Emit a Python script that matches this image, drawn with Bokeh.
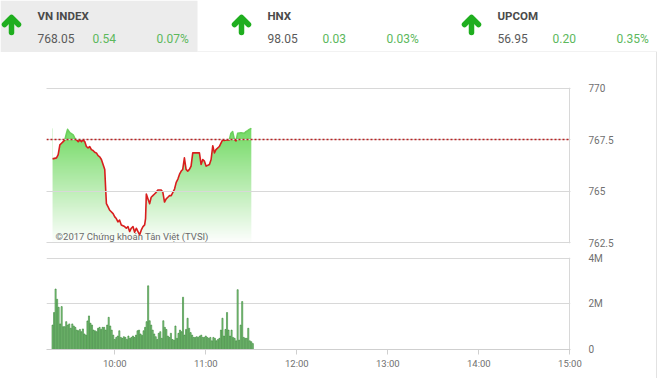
import numpy as np
from bokeh.plotting import figure
from bokeh.layouts import column
from bokeh.models import Range1d, FixedTicker, Span, Label
from bokeh.core.properties import value
from bokeh.embed import file_html
from bokeh.resources import INLINE

# ---------------- data ----------------
index_names = ["VN INDEX", "HNX", "UPCOM"]
index_values = ["768.05", "98.05", "56.95"]
index_changes = ["0.54", "0.03", "0.20"]
index_pcts = ["0.07%", "0.03%", "0.35%"]

ref_price = 767.51

# minutes after 9:00
price_time = [19.0, 21.6, 22.7, 23.8, 24.9, 26.0, 27.1, 28.2, 28.9, 30.4, 32.6, 33.7,
              34.8, 35.9, 37.0, 38.1, 39.1, 40.2, 41.3, 42.4, 43.5, 44.6, 45.7, 46.8,
              47.9, 49.0, 50.1, 51.2, 52.3, 53.4, 54.0, 54.5, 55.6, 56.7, 58.9, 60.0,
              61.0, 62.1, 63.2, 64.3, 66.5, 67.6, 68.7, 69.8, 70.9, 72.0, 73.1, 74.2,
              75.3, 76.4, 77.5, 78.6, 79.7, 80.3, 80.8, 81.9, 83.0, 84.0, 85.1, 86.2,
              87.3, 88.4, 90.6, 91.7, 92.8, 93.9, 95.0, 96.1, 97.2, 98.3, 99.4, 100.5,
              101.6, 102.7, 103.8, 104.8, 105.9, 107.0, 108.1, 109.2, 110.3, 111.4, 113.6, 115.8,
              116.9, 118.0, 119.1, 120.2, 122.4, 123.5, 124.6, 125.7, 126.7, 128.9, 130.0, 131.1,
              132.2, 133.3, 135.5, 136.6, 137.7, 138.8, 139.9, 141.0, 143.2, 145.4, 146.5, 147.6,
              148.7, 150.0]
price = [766.57, 766.62, 766.78, 767.25, 767.33, 767.41, 767.49, 767.81, 768.00, 767.84, 767.73, 767.57,
         767.49, 767.41, 767.49, 767.41, 767.49, 767.41, 767.17, 767.10, 767.17, 767.02, 766.98, 766.89,
         766.86, 766.73, 766.67, 766.54, 766.30, 766.06, 765.11, 764.40, 764.24, 764.08, 763.92, 763.76,
         763.68, 763.52, 763.60, 763.37, 763.29, 763.21, 763.29, 763.05, 763.21, 763.29, 763.02, 763.21,
         763.05, 762.89, 763.13, 763.29, 763.37, 763.68, 764.87, 764.63, 764.40, 764.71, 764.79, 764.87,
         764.95, 765.06, 765.06, 764.95, 764.48, 764.63, 764.71, 764.79, 764.79, 764.95, 765.11, 765.43,
         765.59, 765.83, 765.98, 766.06, 766.62, 766.06, 765.98, 766.06, 766.22, 766.86, 766.86, 766.86,
         766.30, 766.54, 766.46, 766.22, 766.30, 766.54, 767.21, 766.86, 767.02, 767.17, 767.33, 767.49,
         767.46, 767.49, 767.49, 767.81, 767.89, 767.52, 767.44, 767.81, 767.84, 767.81, 767.89, 767.94,
         768.00, 768.05]

# volume per minute (millions of shares), first bar at 9:19
vol_start_minute = 19
vol_m = [1.07, 1.62, 2.65, 2.2, 1.85, 1.12, 1.88, 1.0, 1.0, 1.22,
         1.07, 1.12, 0.93, 1.12, 1.03, 0.97, 0.85, 0.82, 0.88, 0.78,
         0.9, 0.68, 0.63, 1.25, 1.47, 1.15, 1.07, 0.85, 0.82, 0.78,
         0.93, 0.97, 0.88, 0.97, 0.97, 0.85, 1.07, 1.41, 1.03, 0.85,
         0.63, 0.44, 0.53, 0.59, 0.82, 0.53, 0.49, 0.56, 0.53, 0.44,
         0.59, 0.49, 0.53, 0.59, 0.53, 0.63, 0.82, 0.85, 0.68, 0.62,
         0.82, 0.97, 1.22, 2.79, 1.26, 1.07, 0.85, 0.68, 0.56, 0.44,
         0.71, 0.78, 0.49, 1.26, 0.97, 0.88, 0.59, 0.53, 0.71, 0.44,
         0.41, 1.03, 0.49, 0.71, 0.85, 0.78, 2.29, 0.63, 0.88, 1.37,
         0.93, 0.74, 0.63, 0.53, 0.53, 0.56, 0.53, 0.59, 0.63, 0.53,
         0.53, 0.59, 0.53, 0.49, 0.53, 0.38, 0.53, 0.49, 0.38, 0.44,
         0.49, 0.85, 1.37, 0.59, 0.88, 1.62, 0.85, 0.59, 0.85, 0.53,
         0.49, 0.38, 2.62, 0.41, 1.07, 2.1, 0.53, 0.49, 0.49, 0.93,
         0.38, 0.34, 0.26]

hour_ticks = [60, 120, 180, 240, 300, 360]
hour_labels = ["10:00", "11:00", "12:00", "13:00", "14:00", "15:00"]
price_ticks = [762.5, 765, 767.5, 770]
price_labels = ["762.5", "765", "767.5", "770"]
vol_ticks = [0, 2, 4]
vol_labels = ["0", "2M", "4M"]
copyright_text = "©2017 Chứng khoán Tân Việt (TVSI)"

FONT = "Roboto"
W = 656
X_START, X_END = 15, 360.4

# ---------------- header ----------------
hdr = figure(width=W + 1, height=52, output_backend="svg", toolbar_location=None,
             x_range=Range1d(0, W + 1), y_range=Range1d(52, 0),
             x_axis_location=None, y_axis_location=None, min_border=0)
try:
    hdr.frame_align = False
except Exception:
    pass
hdr.grid.visible = False
hdr.outline_line_color = None
hdr.background_fill_color = "white"
hdr.border_fill_color = "white"
hdr.quad(left=[0], right=[197], top=[0], bottom=[52], fill_color="#ececec", line_color=None)
hdr.segment(x0=[197], y0=[51.5], x1=[W + 1], y1=[51.5], line_color="#e4e4e4", line_width=1)

base_x = [37, 267, 497]
arrow_xs, arrow_ys = [], []
for b in base_x:
    c = b - 26
    arrow_xs += [[c - 7, c, c + 7], [c, c]]
    arrow_ys += [[24, 17, 24], [18, 32]]
hdr.multi_line(xs=arrow_xs, ys=arrow_ys, line_color="#1fae1f", line_width=5.5,
               line_cap="round", line_join="round")

hdr.text(x=base_x, y=[15] * 3, text=index_names, text_font=value(FONT), text_font_style="bold",
         text_font_size="11.5px", text_color="#4a4a4a", text_baseline="middle", text_align="left")
hdr.text(x=base_x, y=[38] * 3, text=index_values, text_font=value(FONT),
         text_font_size="12px", text_color="#5a5a5a", text_baseline="middle", text_align="left")
hdr.text(x=[b + 55 for b in base_x], y=[38] * 3, text=index_changes, text_font=value(FONT),
         text_font_size="12px", text_color="#5cb85c", text_baseline="middle", text_align="left")
hdr.text(x=[b + 119 for b in base_x], y=[38] * 3, text=index_pcts, text_font=value(FONT),
         text_font_size="12px", text_color="#5cb85c", text_baseline="middle", text_align="left")

# ---------------- price panel ----------------
pp = figure(width=W, height=198, output_backend="svg", toolbar_location=None,
            x_range=Range1d(X_START, X_END), y_range=Range1d(762.47, 770.03),
            y_axis_location="right", x_axis_location=None,
            min_border_left=46, min_border_right=W - 570, min_border_top=35, min_border_bottom=7)
pp.outline_line_color = None
pp.background_fill_color = "white"
pp.border_fill_color = "white"

# gradient under the curve
t0, t1 = price_time[0], price_time[-1]
top = max(price)
n_rows = 200
frac = np.linspace(0, 1, n_rows)  # 0 bottom -> 1 top
top_rgb = np.array([115, 218, 100])
rows = (255 + (top_rgb - 255)[None, :] * frac[:, None]).astype(np.uint8)
img = np.zeros((n_rows, 1), dtype=np.uint32)
view = img.view(dtype=np.uint8).reshape((n_rows, 1, 4))
view[:, 0, 0] = rows[:, 0]
view[:, 0, 1] = rows[:, 1]
view[:, 0, 2] = rows[:, 2]
view[:, 0, 3] = 255
pp.image_rgba(image=[img], x=t0, y=762.47, dw=t1 - t0, dh=top - 762.47)
# mask above the curve
pp.varea(x=price_time, y1=price, y2=[770.2] * len(price), fill_color="white")

# split the line into above/below reference parts
above_x, above_y, below_x, below_y = [], [], [], []
cx, cy = [price_time[0]], [price[0]]
cur_above = price[0] >= ref_price
for i in range(1, len(price)):
    a = price[i] >= ref_price
    if a != cur_above:
        f = (ref_price - price[i - 1]) / (price[i] - price[i - 1])
        xc = price_time[i - 1] + f * (price_time[i] - price_time[i - 1])
        cx.append(xc); cy.append(ref_price)
        if cur_above:
            above_x.append(cx); above_y.append(cy)
        else:
            below_x.append(cx); below_y.append(cy)
        cx, cy = [xc], [ref_price]
        cur_above = a
    cx.append(price_time[i]); cy.append(price[i])
if cur_above:
    above_x.append(cx); above_y.append(cy)
else:
    below_x.append(cx); below_y.append(cy)

pp.multi_line(xs=below_x, ys=below_y, line_color="#d81e1e", line_width=1.6, line_join="round")
pp.multi_line(xs=above_x, ys=above_y, line_color="#6ccf5c", line_width=1.6, line_join="round")

pp.add_layout(Span(location=ref_price, dimension="width", line_color="#b82222",
                   line_dash="2 2", line_width=1.3))

pp.ygrid.ticker = FixedTicker(ticks=price_ticks)
pp.ygrid.grid_line_color = "#d8d8d8"
pp.ygrid.level = "guide"
pp.xgrid.ticker = FixedTicker(ticks=[360])
pp.xgrid.grid_line_color = "#d8d8d8"

ya = pp.yaxis[0]
ya.ticker = FixedTicker(ticks=price_ticks)
ya.major_label_overrides = {t: l for t, l in zip(price_ticks, price_labels)}
ya.axis_line_color = None
ya.major_tick_line_color = None
ya.minor_tick_line_color = None
ya.major_label_standoff = 12
ya.major_label_text_font = FONT
ya.major_label_text_font_size = "10px"
ya.major_label_text_color = "#707070"

pp.add_layout(Label(x=21, y=762.56, text=copyright_text, text_font=FONT,
                    text_font_size="9.5px", text_color="#6a6a6a", text_baseline="bottom"))

# ---------------- volume panel ----------------
vol_time = [vol_start_minute + i for i in range(len(vol_m))]
vp = figure(width=W, height=128, output_backend="svg", toolbar_location=None,
            x_range=Range1d(X_START, X_END), y_range=Range1d(0, 4.03),
            y_axis_location="right",
            min_border_left=46, min_border_right=W - 570, min_border_top=7, min_border_bottom=29)
vp.outline_line_color = None
vp.background_fill_color = "white"
vp.border_fill_color = "white"
vp.vbar(x=vol_time, top=vol_m, width=0.72, bottom=0,
        fill_color="#92d68e", line_color="#2f7f2f", line_width=0.6)

vp.ygrid.ticker = FixedTicker(ticks=vol_ticks)
vp.ygrid.grid_line_color = "#d8d8d8"
vp.xgrid.ticker = FixedTicker(ticks=[360])
vp.xgrid.grid_line_color = "#d8d8d8"

vy = vp.yaxis[0]
vy.ticker = FixedTicker(ticks=vol_ticks)
vy.major_label_overrides = {t: l for t, l in zip(vol_ticks, vol_labels)}
vy.axis_line_color = None
vy.major_tick_line_color = None
vy.minor_tick_line_color = None
vy.major_label_standoff = 12
vy.major_label_text_font = FONT
vy.major_label_text_font_size = "10px"
vy.major_label_text_color = "#707070"

vx = vp.xaxis[0]
vx.ticker = FixedTicker(ticks=hour_ticks)
vx.major_label_overrides = {t: l for t, l in zip(hour_ticks, hour_labels)}
vx.axis_line_color = "#cfcfcf"
vx.major_tick_line_color = "#cfcfcf"
vx.major_tick_out = 5
vx.major_tick_in = 0
vx.minor_tick_line_color = None
vx.major_label_standoff = 3
vx.major_label_text_font = FONT
vx.major_label_text_font_size = "9.5px"
vx.major_label_text_color = "#707070"

charts = column(pp, vp, spacing=0, styles={"border-right": "1px solid #e2e2e2"})
layout = column(hdr, charts, spacing=0)
open("out.html", "w").write(file_html(layout, INLINE))
